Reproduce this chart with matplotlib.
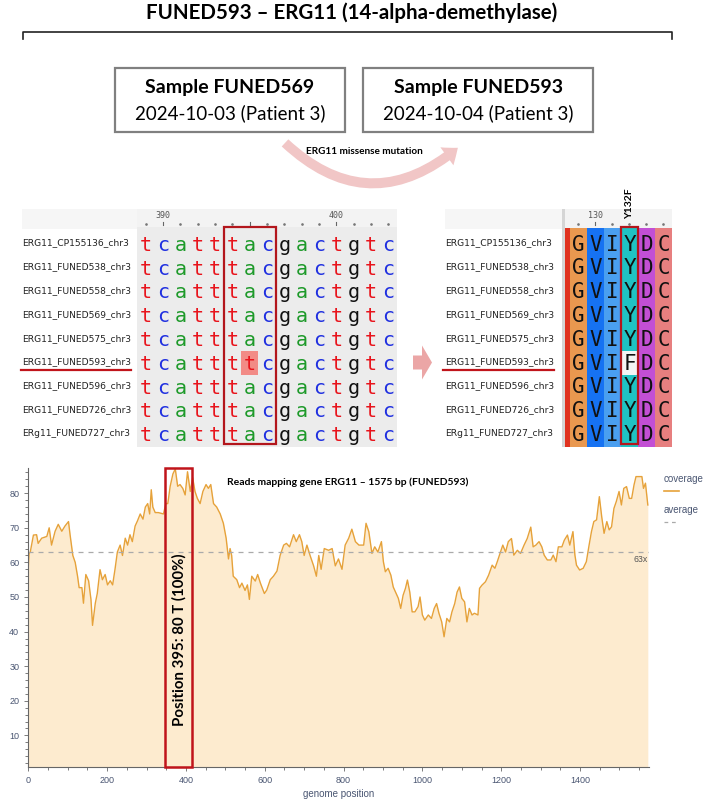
import numpy as np
import matplotlib
matplotlib.use("Agg")
import matplotlib.pyplot as plt
from matplotlib.patches import Rectangle, FancyArrowPatch, FancyArrow
from matplotlib.transforms import blended_transform_factory

W, H = 709, 800

# ---------------- data ----------------
title = "FUNED593 \u2013 ERG11 (14-alpha-demethylase)"
sample_a = ("Sample FUNED569", "2024-10-03 (Patient 3)")
sample_b = ("Sample FUNED593", "2024-10-04 (Patient 3)")
mutation_note = "ERG11 missense mutation"

seq_names = ["ERG11_CP155136_chr3", "ERG11_FUNED538_chr3", "ERG11_FUNED558_chr3",
             "ERG11_FUNED569_chr3", "ERG11_FUNED575_chr3", "ERG11_FUNED593_chr3",
             "ERG11_FUNED596_chr3", "ERG11_FUNED726_chr3", "ERg11_FUNED727_chr3"]
nt_seqs = ["tcatttacgactgtc"] * 5 + ["tcattttcgactgtc"] + ["tcatttacgactgtc"] * 3
nt_start = 389
aa_seqs = ["GVIYDC"] * 5 + ["GVIFDC"] + ["GVIYDC"] * 3
aa_start = 129
highlight_row = 5
codon_pos = [394, 395, 396]
aa_mut_pos = 132
aa_mut_label = "Y132F"

nt_colors = {"t": "#e8141c", "c": "#1f2fe0", "a": "#1e9a2a", "g": "#111111"}
aa_colors = {"G": "#e9984f", "V": "#1672f2", "I": "#4a9ff0", "Y": "#1fc3c3",
             "D": "#c24fd4", "C": "#e77f7f"}

cov_pos = [0, 2, 5, 13, 21, 25, 34, 47, 53, 59, 68, 76, 85, 93, 102, 106, 113, 119,
           125, 129, 136, 140, 146, 153, 159, 163, 170, 175, 182, 188, 195, 201, 208,
           214, 220, 226, 233, 239, 246, 252, 258, 264, 271, 277, 284, 291, 297, 303,
           308, 312, 316, 322, 330, 343, 349, 354, 360, 367, 373, 379, 385, 392, 398,
           404, 411, 417, 423, 429, 436, 443, 451, 457, 463, 470, 478, 487, 495, 502,
           508, 512, 516, 520, 529, 536, 542, 550, 556, 561, 567, 576, 582, 589, 599,
           605, 614, 622, 631, 639, 648, 655, 663, 673, 680, 688, 694, 700, 707, 715,
           724, 731, 737, 743, 751, 762, 771, 779, 787, 796, 804, 813, 821, 830, 839,
           851, 857, 864, 872, 879, 887, 896, 901, 906, 913, 920, 926, 932, 939, 945,
           951, 957, 962, 968, 974, 981, 989, 994, 1000, 1006, 1015, 1023, 1030, 1036,
           1042, 1049, 1055, 1062, 1069, 1075, 1082, 1088, 1094, 1100, 1107, 1113, 1119,
           1126, 1132, 1141, 1145, 1151, 1160, 1168, 1177, 1184, 1190, 1198, 1204, 1211,
           1218, 1226, 1232, 1241, 1249, 1258, 1266, 1275, 1281, 1288, 1296, 1303, 1309,
           1317, 1326, 1332, 1339, 1345, 1354, 1360, 1368, 1374, 1382, 1387, 1391, 1399,
           1408, 1416, 1423, 1429, 1435, 1442, 1449, 1455, 1461, 1468, 1474, 1480, 1486,
           1492, 1499, 1505, 1511, 1518, 1525, 1531, 1537, 1542, 1551, 1557, 1561, 1566,
           1572]
cov_val = [58.7, 62.6, 63, 67.9, 68, 65.5, 67, 67.5, 70, 65, 69, 71, 69, 70.5, 71.8, 68,
           62, 60, 56, 52.7, 52.7, 48.2, 56.5, 54.7, 49.3, 41.8, 48.2, 51, 57.9, 55, 56.5,
           53.5, 54.7, 53.5, 58, 63, 65, 62, 67, 65, 68, 66, 70.5, 72, 74, 72.5, 76, 77,
           74, 81, 76, 74.4, 74.4, 74, 77, 77, 82, 85.6, 87, 82, 82.5, 81.4, 79.5, 86.2,
           80.5, 84.5, 80.5, 78.5, 77, 80.5, 82.5, 81.4, 82.5, 77, 76, 74, 71.3, 67, 61,
           64, 62, 56, 55, 52.7, 54, 51.9, 53.5, 49.3, 56, 54.6, 56.5, 54, 51, 52, 55, 56,
           57.5, 62, 65, 65.5, 64.5, 68, 66, 68, 66, 62, 65, 62, 59, 56, 62, 58, 64, 63.5,
           64, 59, 61, 58, 65, 67, 69.6, 66, 65,
           65, 71.3, 68.9, 62.6, 64.5, 63, 66, 60.2, 57.3, 58.3, 56.3, 52.9, 51.4, 49.6,
           46.7, 50.5, 52.5, 54.9, 51.4, 45.7, 45.7, 47.2, 50, 44.8, 43.3, 44.8, 43.8,
           46.7, 48.1, 45.3, 42.8, 38.5, 43.8, 42.8, 45.7, 48.1, 51.4, 52.9, 49.6, 48.6,
           42.8, 46.7, 44.8, 45.3, 44.8, 52.5, 53.4, 54.4, 56.3, 59.2, 58.3, 60.2, 63, 65,
           63, 66, 66.9, 62.1, 63.5, 62.6, 65, 66.9, 70.2, 64.5, 65, 66, 64.5, 62.1, 60.7,
           60.7, 62.1, 60.2, 64.5, 64.5, 66.4, 67.9, 65, 68.9, 62.1, 59.2, 57.8, 58.3,
           60.2, 65, 68.9, 71.8, 72.3, 79, 73.2, 68.4, 71.8, 69.4, 70.3, 75.6, 77.6, 80.5,
           76.6, 81.4, 81.9, 78.5, 78.5, 82.4, 84.8, 84.8, 84.8, 81.4, 82.9, 76.6]
cov_avg = 63
gene_len = 1575
cov_title = "Reads mapping gene ERG11 \u2013 1575 bp (FUNED593)"
pos_note = "Position 395: 80 T (100%)"
x_ticks = [0, 200, 400, 600, 800, 1000, 1200, 1400]
y_ticks = [10, 20, 30, 40, 50, 60, 70, 80]

# ---------------- figure ----------------
fig = plt.figure(figsize=(W / 100, H / 100), dpi=100)


def px_axes(x0, y0, x1, y1):
    return fig.add_axes([x0 / W, 1 - y1 / H, (x1 - x0) / W, (y1 - y0) / H])


ov = fig.add_axes([0, 0, 1, 1])
ov.set_xlim(0, W)
ov.set_ylim(H, 0)
ov.axis("off")

# title + bracket
ov.text(352, 13, title, ha="center", va="center", fontsize=14.8,
        fontweight="bold", family="Lato")
ov.plot([22.7, 22.7, 671.7, 671.7], [38.5, 31.7, 31.7, 38.5], color="#222222", lw=1.2)

# sample boxes
for x0, (head, sub) in zip([115, 363.3], [sample_a, sample_b]):
    ov.add_patch(Rectangle((x0, 68.3), 230, 63.4, fc="white", ec="#808080", lw=1.6))
    ov.text(x0 + 115, 87.5, head, ha="center", va="center", fontsize=14,
            fontweight="bold", family="Lato")
    ov.text(x0 + 115, 113.5, sub, ha="center", va="center", fontsize=13.5, family="Lato")

# curved arrow
ov.add_patch(FancyArrowPatch((283, 141), (460, 146), connectionstyle="arc3,rad=0.45",
                             arrowstyle="simple,head_length=10,head_width=16,tail_width=7",
                             color="#f1c6c6", lw=0))
ov.text(364, 152, mutation_note, ha="center", va="center", fontsize=7.2,
        fontweight="bold", family="Lato")

# block arrow between panels
ov.add_patch(FancyArrow(413, 362.5, 19, 0, width=14, head_width=34, head_length=10,
                        length_includes_head=True, color="#eba6a6", lw=0))

# label header backgrounds
ov.add_patch(Rectangle((22, 208.5), 115, 20, fc="#f6f6f6", ec="none"))
ov.add_patch(Rectangle((445, 208.5), 117, 20, fc="#f6f6f6", ec="none"))

# ---------------- nucleotide panel ----------------
n_rows = len(nt_seqs)
n_nt = len(nt_seqs[0])
ax_nt = px_axes(137, 208.5, 397, 446.5)
ax_nt.set_xlim(-0.5, n_nt - 0.5)
ax_nt.set_ylim(n_rows - 0.5, -1.5)
ax_nt.axis("off")
ax_nt.add_patch(Rectangle((-0.5, -0.72), n_nt, n_rows + 0.22, fc="#ececec", ec="none"))
ax_nt.add_patch(Rectangle((-0.5, -1.5), n_nt, 0.78, fc="#f3f3f3", ec="none"))

for i in range(n_nt):
    p = nt_start + i
    if p % 10 == 0:
        ax_nt.text(i, -1.2, str(p), ha="center", va="center", fontsize=6,
                   family="DejaVu Sans Mono", color="#555555")
    if p % 5 == 0:
        ax_nt.plot([i, i], [-0.95, -0.82], color="#666666", lw=0.8)
    else:
        ax_nt.plot(i, -0.86, marker="o", ms=0.9, color="#777777")

for r, s in enumerate(nt_seqs):
    for i, ch in enumerate(s):
        if s[i] != nt_seqs[0][i]:
            ax_nt.add_patch(Rectangle((i - 0.5, r - 0.5), 1, 1, fc="#f28b86", ec="none"))
        ax_nt.text(i, r + 0.05, ch, ha="center", va="center", fontsize=14.5,
                   family="DejaVu Sans Mono", color=nt_colors[ch])

c0 = codon_pos[0] - nt_start
ax_nt.add_patch(Rectangle((c0 - 0.5, -0.72), len(codon_pos), n_rows + 0.1, fill=False,
                          ec="#b3161c", lw=1.6, clip_on=False))

tr_nt = blended_transform_factory(fig.transFigure, ax_nt.transData)
for r, name in enumerate(seq_names):
    ax_nt.text(22 / W, r - 0.05, name, transform=tr_nt, ha="left", va="center",
               fontsize=6.6, color="#222222")
ax_nt.plot([21 / W, 131 / W], [highlight_row + 0.3] * 2, transform=tr_nt,
           color="#c0141b", lw=1.6, clip_on=False)

# ---------------- protein panel ----------------
n_aa = len(aa_seqs[0])
ax_aa = px_axes(562, 208.5, 672, 446.5)
ax_aa.set_xlim(-0.97, n_aa - 0.5)
ax_aa.set_ylim(n_rows - 0.5, -1.5)
ax_aa.axis("off")
ax_aa.add_patch(Rectangle((-0.97, -1.5), 0.17, n_rows + 1, fc="#d5d5d5", ec="none"))
ax_aa.add_patch(Rectangle((-0.8, -1.5), n_aa + 0.3, 0.8, fc="#f3f3f3", ec="none"))
ax_aa.add_patch(Rectangle((-0.8, -0.7), 0.3, n_rows + 0.2, fc="#e0321f", ec="none"))
for i in range(n_aa):
    p = aa_start + i
    if p % 10 == 0:
        ax_aa.text(i, -1.2, str(p), ha="center", va="center", fontsize=6,
                   family="DejaVu Sans Mono", color="#555555")
        ax_aa.plot([i, i], [-0.95, -0.82], color="#666666", lw=0.8)
    else:
        ax_aa.plot(i, -0.86, marker="o", ms=0.9, color="#777777")
for r, s in enumerate(aa_seqs):
    for i, ch in enumerate(s):
        fc = aa_colors[ch] if ch == aa_seqs[0][i] else "#f4f4f4"
        ax_aa.add_patch(Rectangle((i - 0.5, r - 0.5), 1, 1, fc=fc, ec="none"))
        ax_aa.text(i, r + 0.02, ch, ha="center", va="center", fontsize=15,
                   family="DejaVu Sans Mono", color="#111111")
# colour also the strip above first row
for i, ch in enumerate(aa_seqs[0]):
    ax_aa.add_patch(Rectangle((i - 0.5, -0.7), 1, 0.2, fc=aa_colors[ch], ec="none"))

m = aa_mut_pos - aa_start
ax_aa.add_patch(Rectangle((m - 0.5, -0.72), 1, n_rows + 0.1, fill=False,
                          ec="#b3161c", lw=1.6, clip_on=False))
ax_aa.text(m, -1.05, aa_mut_label, rotation=90, ha="center", va="bottom", fontsize=7.5,
           fontweight="bold", family="Lato", clip_on=False)

tr_aa = blended_transform_factory(fig.transFigure, ax_aa.transData)
for r, name in enumerate(seq_names):
    ax_aa.text(445 / W, r - 0.05, name, transform=tr_aa, ha="left", va="center",
               fontsize=6.6, color="#222222")
ax_aa.plot([443 / W, 554 / W], [highlight_row + 0.3] * 2, transform=tr_aa,
           color="#c0141b", lw=1.6, clip_on=False)

# ---------------- coverage ----------------
ax = px_axes(28.3, 468.3, 649, 766.5)
ax.fill_between(cov_pos, cov_val, 0, color="#fdebcf", lw=0)
ax.plot(cov_pos, cov_val, color="#e6a23a", lw=1)
ax.axhline(cov_avg, color="#aaaaaa", lw=0.9, dashes=(4, 4))
ax.set_xlim(0, gene_len)
ax.set_ylim(1, 87.2)
ax.set_xticks(x_ticks)
ax.set_yticks(y_ticks)
ax.set_xticks(np.arange(0, gene_len, 50), minor=True)
ax.set_yticks(np.arange(2, 88, 2), minor=True)
for sp in ["top", "right"]:
    ax.spines[sp].set_visible(False)
for sp in ["left", "bottom"]:
    ax.spines[sp].set_color("#666666")
    ax.spines[sp].set_linewidth(0.8)
ax.tick_params(which="both", colors="#666666", labelcolor="#4a5672", labelsize=6.5,
               length=3, width=0.6)
ax.tick_params(which="minor", length=2)
for lab in ax.get_xticklabels() + ax.get_yticklabels():
    lab.set_family("Liberation Sans")
ax.set_xlabel("genome position", fontsize=7, color="#4a5672", family="Liberation Sans",
              labelpad=3)
ax.text(810, 83.3, cov_title, ha="center", va="center", fontsize=7.5,
        fontweight="bold", family="Lato")
ax.text(gene_len - 2, cov_avg - 0.8, "63x", ha="right", va="top", fontsize=6.3,
        color="#555555", family="Liberation Sans")

ax.add_patch(Rectangle((348, 1), 68, 86.2, fill=False, ec="#c0141b", lw=1.8,
                       clip_on=False, zorder=5))
ax.text(383, 37.5, pos_note, rotation=90, ha="center", va="center", fontsize=10.8,
        fontweight="bold", family="Lato", zorder=6)

# legend
ov.text(664, 479, "coverage", ha="left", va="center", fontsize=7, color="#4a5672",
        family="Liberation Sans")
ov.plot([664, 679], [490.5, 490.5], color="#e6a23a", lw=1.2)
ov.text(664, 510, "average", ha="left", va="center", fontsize=7, color="#4a5672",
        family="Liberation Sans")
ov.plot([664, 679], [521.5, 521.5], color="#aaaaaa", lw=0.9, dashes=(3, 3))

fig.savefig("out.png", dpi=100)
